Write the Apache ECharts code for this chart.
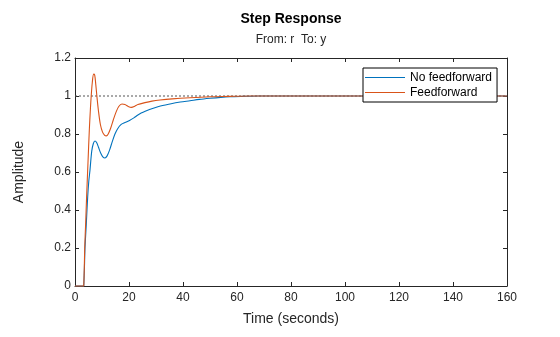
<!DOCTYPE html>
<html>
<head>
<meta charset="utf-8">
<script src="https://cdn.jsdelivr.net/npm/echarts@6/dist/echarts.min.js"></script>
<style>html,body{margin:0;padding:0;background:#fff;}#c{width:560px;height:337px;}</style>
</head>
<body>
<div id="c"></div>
<script>
// Data
var titleText = 'Step Response';
var subTitleText = 'From: r  To: y';
var xLabel = 'Time (seconds)';
var yLabel = 'Amplitude';
var seriesNames = ['No feedforward', 'Feedforward'];
var xTicks = [0, 20, 40, 60, 80, 100, 120, 140, 160];
var yTicks = [0, 0.2, 0.4, 0.6, 0.8, 1, 1.2];
var steadyState = [[0, 1], [160, 1]];

var noFeedforward = [
  [0,0],[3.25,0],[3.3,0],[3.5,0.1],[3.7,0.2],[4.2,0.33],[4.7,0.47],[5.1,0.55],[5.55,0.61],[6.2,0.71],
  [6.8,0.75],[7.4,0.763],[8.0,0.755],[8.7,0.73],[9.5,0.7],[10.3,0.68],[11.1,0.674],[11.9,0.685],
  [12.8,0.715],[13.8,0.76],[14.8,0.8],[15.8,0.828],[17.0,0.849],[18.5,0.86],[20.2,0.871],
  [21.8,0.885],[23.3,0.9],[24.5,0.91],[26,0.92],[27.8,0.93],[31,0.945],[35.2,0.958],[39,0.968],
  [42.6,0.975],[46,0.982],[50,0.988],[54,0.993],[57.4,0.996],[62,0.998],[68,1.0],[80,1.0],
  [100,1.0],[120,1.0],[140,1.0],[160,1.0]
];
var feedforward = [
  [0,0],[3.25,0],[3.3,0],[3.45,0.1],[3.6,0.2],[3.95,0.33],[4.3,0.47],[4.8,0.646],[5.3,0.82],[5.7,0.93],
  [6.0,1.0],[6.4,1.07],[6.9,1.115],[7.3,1.11],[7.7,1.06],[8.1,1.0],[8.7,0.92],[9.4,0.85],
  [10.2,0.81],[11.0,0.793],[11.6,0.79],[12.3,0.8],[13.2,0.83],[14.2,0.875],[15.2,0.915],
  [16.2,0.945],[17.4,0.958],[18.5,0.955],[19.7,0.945],[20.9,0.94],[22.0,0.945],[23.3,0.955],
  [25.9,0.965],[28.5,0.973],[31.5,0.979],[36,0.985],[42.6,0.991],[50,0.996],[57,0.998],
  [65,1.0],[80,1.0],[100,1.0],[120,1.0],[140,1.0],[160,1.0]
];

var axisColor = '#262626';
var fontFam = '"Liberation Sans", Arial, Helvetica, sans-serif';
var chart = echarts.init(document.getElementById('c'), null, {renderer: 'canvas'});

function fmt(v) { return String(Math.round(v * 10) / 10); }

var tickStyle = {show: true, inside: true, length: 4, lineStyle: {color: axisColor, width: 1}};
var lineStyleAx = {show: true, onZero: false, lineStyle: {color: axisColor, width: 1}};

chart.setOption({
  animation: false,
  backgroundColor: '#fff',
  grid: {left: 75, right: 53, top: 58, bottom: 51, containLabel: false},
  xAxis: [{
    type: 'value', min: xTicks[0], max: xTicks[xTicks.length - 1], interval: xTicks[1] - xTicks[0],
    axisLine: lineStyleAx, axisTick: tickStyle, splitLine: {show: false},
    axisLabel: {color: axisColor, fontSize: 12, fontFamily: fontFam, margin: 6, formatter: fmt}
  }, {
    type: 'value', position: 'top', min: xTicks[0], max: xTicks[xTicks.length - 1], interval: xTicks[1] - xTicks[0],
    axisLine: lineStyleAx, axisTick: tickStyle, splitLine: {show: false}, axisLabel: {show: false}
  }],
  yAxis: [{
    type: 'value', min: yTicks[0], max: yTicks[yTicks.length - 1], interval: yTicks[1] - yTicks[0],
    axisLine: lineStyleAx, axisTick: tickStyle, splitLine: {show: false},
    axisLabel: {color: axisColor, fontSize: 12, fontFamily: fontFam, margin: 4, formatter: fmt}
  }, {
    type: 'value', position: 'right', min: yTicks[0], max: yTicks[yTicks.length - 1], interval: yTicks[1] - yTicks[0],
    axisLine: lineStyleAx, axisTick: tickStyle, splitLine: {show: false}, axisLabel: {show: false}
  }],
  legend: {
    data: seriesNames,
    orient: 'vertical', left: 363, top: 68,
    icon: 'rect',
    padding: [3, 5, 3, 2], itemGap: 2, itemWidth: 40, itemHeight: 1,
    backgroundColor: '#fff', borderColor: '#000', borderWidth: 1, borderRadius: 0,
    textStyle: {color: '#000', fontSize: 12, fontFamily: fontFam, lineHeight: 13},
    z: 10
  },
  graphic: [
    {type: 'text', style: {text: titleText, x: 291, y: 19, align: 'center', verticalAlign: 'middle', font: 'bold 14px ' + fontFam, fill: '#000'}},
    {type: 'text', style: {text: subTitleText, x: 291, y: 40, align: 'center', verticalAlign: 'middle', font: '12px ' + fontFam, fill: axisColor}},
    {type: 'text', style: {text: xLabel, x: 291, y: 319, align: 'center', verticalAlign: 'middle', font: '14px ' + fontFam, fill: axisColor}},
    {type: 'text', x: 19, y: 172, rotation: Math.PI / 2, style: {text: yLabel, x: 0, y: 0, align: 'center', verticalAlign: 'middle', font: '14px ' + fontFam, fill: axisColor}}
  ],
  series: [
    {
      name: 'steady', type: 'line', data: steadyState, symbol: 'none', silent: true, z: 1,
      lineStyle: {color: '#555', width: 1, type: [2, 2]}
    },
    {
      name: seriesNames[0], type: 'line', data: noFeedforward, symbol: 'none', smooth: 0.3, z: 2, clip: false,
      lineStyle: {color: '#0072BD', width: 1.1}, itemStyle: {color: '#0072BD'}
    },
    {
      name: seriesNames[1], type: 'line', data: feedforward, symbol: 'none', smooth: 0.3, z: 3, clip: false,
      lineStyle: {color: '#D95319', width: 1.1}, itemStyle: {color: '#D95319'}
    }
  ]
});
</script>
</body>
</html>
